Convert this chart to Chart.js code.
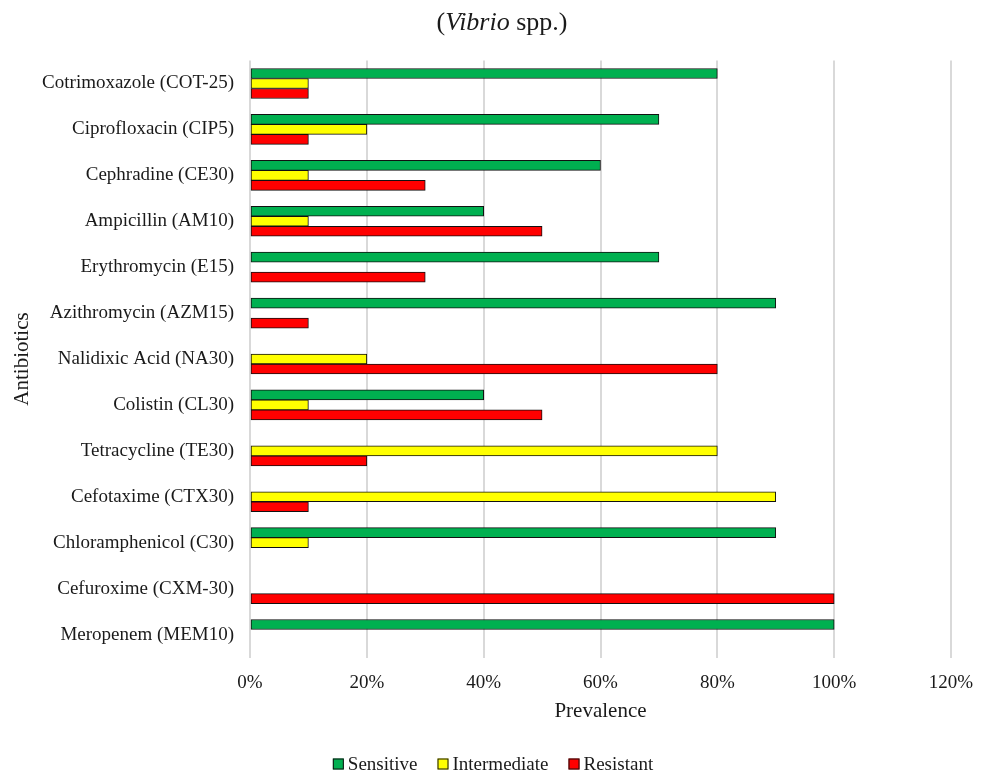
<!DOCTYPE html>
<html>
<head>
<meta charset="utf-8">
<script src="https://cdn.jsdelivr.net/npm/chart.js@4/dist/chart.umd.min.js"></script>
<style>
  html, body { margin: 0; padding: 0; background: #fff; }
  #wrap { width: 988px; height: 773px; }
</style>
</head>
<body>
<div id="wrap"><canvas id="c" width="988" height="773"></canvas></div>
<script>
// Antibiotic susceptibility of Vibrio spp. isolates (% of isolates)
const antibiotics = [
  'Cotrimoxazole (COT-25)',
  'Ciprofloxacin (CIP5)',
  'Cephradine (CE30)',
  'Ampicillin (AM10)',
  'Erythromycin (E15)',
  'Azithromycin (AZM15)',
  'Nalidixic Acid (NA30)',
  'Colistin (CL30)',
  'Tetracycline (TE30)',
  'Cefotaxime (CTX30)',
  'Chloramphenicol (C30)',
  'Cefuroxime (CXM-30)',
  'Meropenem (MEM10)'
];
const sensitive    = [80, 70, 60, 40, 70, 90,  0, 40,  0,  0, 90,   0, 100];
const intermediate = [10, 20, 10, 10,  0,  0, 20, 10, 80, 90, 10,   0,   0];
const resistant    = [10, 10, 30, 50, 30, 10, 80, 50, 20, 10,  0, 100,   0];
const xTicks = [0, 20, 40, 60, 80, 100, 120];

const FONT = "'Liberation Serif', 'Times New Roman', serif";
const TXT = '#1a1a1a';

// zero shares are left empty rather than drawn as hairline bars
const toBars = arr => arr.map(v => (v === 0 ? null : v));

// chart heading with the genus name set in italics
const titlePlugin = {
  id: 'mixedTitle',
  afterDraw(chart) {
    const ctx = chart.ctx;
    const parts = [
      { t: '(', f: `26px ${FONT}` },
      { t: 'Vibrio', f: `italic 26px ${FONT}` },
      { t: ' spp.)', f: `26px ${FONT}` }
    ];
    ctx.save();
    let w = 0;
    parts.forEach(p => { ctx.font = p.f; p.w = ctx.measureText(p.t).width; w += p.w; });
    let x = chart.width / 2 - w / 2 + 8;
    ctx.fillStyle = TXT;
    ctx.textBaseline = 'middle';
    ctx.textAlign = 'left';
    parts.forEach(p => { ctx.font = p.f; ctx.fillText(p.t, x, 23); x += p.w; });
    ctx.restore();
  }
};

// compact legend row under the axis: small bordered swatch, tight label gap
const legendRowPlugin = {
  id: 'legendRow',
  afterDraw(chart) {
    const ctx = chart.ctx;
    const box = 11, gap = 4, spacing = 20, cy = 764;
    ctx.save();
    ctx.font = `19px ${FONT}`;
    const items = chart.data.datasets.map(ds => ({
      text: ds.label,
      color: ds.backgroundColor,
      w: ctx.measureText(ds.label).width
    }));
    const total = items.reduce((s, it) => s + box + gap + it.w, 0) + spacing * (items.length - 1);
    let x = 493 - total / 2;
    ctx.textBaseline = 'middle';
    ctx.textAlign = 'left';
    items.forEach(it => {
      ctx.fillStyle = it.color;
      ctx.fillRect(x, cy - box / 2, box, box);
      ctx.strokeStyle = '#111';
      ctx.lineWidth = 1;
      ctx.strokeRect(x + 0.5, cy - box / 2 + 0.5, box - 1, box - 1);
      ctx.fillStyle = TXT;
      ctx.fillText(it.text, x + box + gap, cy + 1);
      x += box + gap + it.w + spacing;
    });
    ctx.restore();
  }
};

new Chart(document.getElementById('c'), {
  type: 'bar',
  data: {
    labels: antibiotics,
    datasets: [
      { label: 'Sensitive', data: toBars(sensitive), backgroundColor: '#00B050' },
      { label: 'Intermediate', data: toBars(intermediate), backgroundColor: '#FFFF00' },
      { label: 'Resistant', data: toBars(resistant), backgroundColor: '#FF0000' }
    ]
  },
  options: {
    indexAxis: 'y',
    responsive: false,
    animation: false,
    devicePixelRatio: 1,
    layout: { padding: { top: 60.5, right: 37, bottom: 42, left: 0 } },
    datasets: {
      bar: {
        barThickness: 10,
        borderColor: '#111',
        borderWidth: 1,
        borderSkipped: false
      }
    },
    scales: {
      x: {
        min: 0,
        max: 120,
        afterBuildTicks(scale) { scale.ticks = xTicks.map(v => ({ value: v })); },
        afterFit(scale) { scale.height = 73.5; },
        border: { display: false },
        grid: { color: '#d9d9d9', lineWidth: 2, drawTicks: false },
        ticks: {
          padding: 14,
          color: TXT,
          font: { family: FONT, size: 19 },
          callback: v => v + '%'
        },
        title: {
          display: true,
          text: 'Prevalence',
          color: TXT,
          font: { family: FONT, size: 21 },
          padding: { top: 0, bottom: 7 }
        }
      },
      y: {
        afterFit(scale) { scale.width = 250; },
        border: { display: false },
        grid: { display: false, drawTicks: false },
        ticks: {
          padding: 16,
          color: TXT,
          font: { family: FONT, size: 19 }
        },
        title: {
          display: true,
          text: 'Antibiotics',
          color: TXT,
          font: { family: FONT, size: 21 },
          padding: { top: 9.5, bottom: 0 }
        }
      }
    },
    plugins: {
      legend: { display: false },
      tooltip: { enabled: false }
    }
  },
  plugins: [titlePlugin, legendRowPlugin]
});
</script>
</body>
</html>
